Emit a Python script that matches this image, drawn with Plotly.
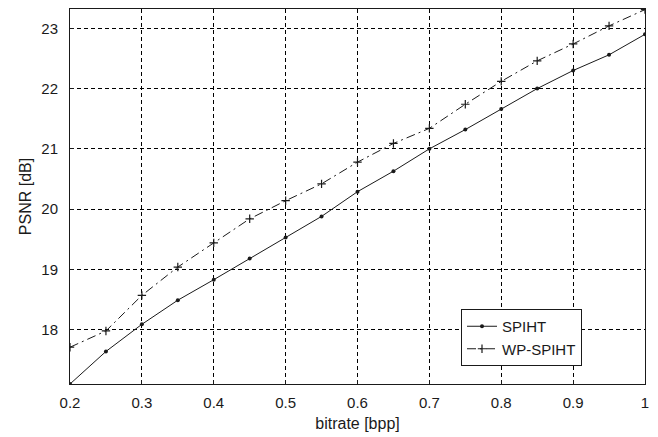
import plotly.graph_objects as go

# Bitrate samples in bits per pixel
bitrate = [0.2, 0.25, 0.3, 0.35, 0.4, 0.45, 0.5, 0.55, 0.6, 0.65, 0.7, 0.75, 0.8, 0.85, 0.9, 0.95, 1.0]

# PSNR in dB for each coder
psnr_spiht = [17.1, 17.64, 18.09, 18.49, 18.83, 19.18, 19.53, 19.88, 20.29, 20.63, 21.0, 21.32, 21.66, 22.0, 22.3, 22.56, 22.9]
psnr_wp_spiht = [17.71, 17.98, 18.57, 19.04, 19.44, 19.84, 20.14, 20.42, 20.78, 21.09, 21.34, 21.74, 22.12, 22.46, 22.74, 23.04, 23.31]

x_ticks = [0.2, 0.3, 0.4, 0.5, 0.6, 0.7, 0.8, 0.9, 1.0]
x_tick_labels = ["0.2", "0.3", "0.4", "0.5", "0.6", "0.7", "0.8", "0.9", "1"]
y_ticks = [18, 19, 20, 21, 22, 23]

FONT = "Liberation Sans, Arial, sans-serif"
INK = "#1a1a1a"

fig = go.Figure()

fig.add_trace(go.Scatter(
    x=bitrate, y=psnr_spiht, name="SPIHT",
    mode="lines+markers",
    line=dict(color=INK, width=1),
    marker=dict(symbol="circle", size=4, color=INK),
))
fig.add_trace(go.Scatter(
    x=bitrate, y=psnr_wp_spiht, name="WP-SPIHT",
    mode="lines+markers",
    line=dict(color=INK, width=1, dash="9px,4px,2px,4px"),
    marker=dict(symbol="cross-thin", size=6, color=INK, line=dict(color=INK, width=1.2)),
))

axis_common = dict(
    showline=True, linecolor=INK, linewidth=1, mirror=True,
    showgrid=True, gridcolor="#000000", gridwidth=1, griddash="4px,3px",
    ticks="inside", ticklen=4, tickcolor=INK,
    zeroline=False,
    tickfont=dict(family=FONT, size=15, color=INK),
)

fig.update_xaxes(
    range=[0.2, 1.0], tickvals=x_ticks, ticktext=x_tick_labels,
    ticklabelstandoff=5,
    title=dict(text="bitrate [bpp]", font=dict(family=FONT, size=16, color=INK), standoff=7),
    **axis_common,
)
fig.update_yaxes(
    range=[17.1, 23.32], tickvals=y_ticks,
    ticklabelstandoff=8,
    title=dict(text="PSNR [dB]", font=dict(family=FONT, size=16, color=INK), standoff=5),
    **axis_common,
)

fig.update_layout(
    width=658, height=437,
    margin=dict(l=70, r=13, t=8, b=49),
    plot_bgcolor="white", paper_bgcolor="white",
    font=dict(family=FONT, size=15, color=INK),
    legend=dict(
        x=0.68, y=0.2, xanchor="left", yanchor="top",
        bgcolor="white", bordercolor=INK, borderwidth=1,
        font=dict(family=FONT, size=15, color=INK),
        tracegroupgap=0, itemwidth=30,
    ),
    showlegend=True,
)

fig.write_html("out.html")
